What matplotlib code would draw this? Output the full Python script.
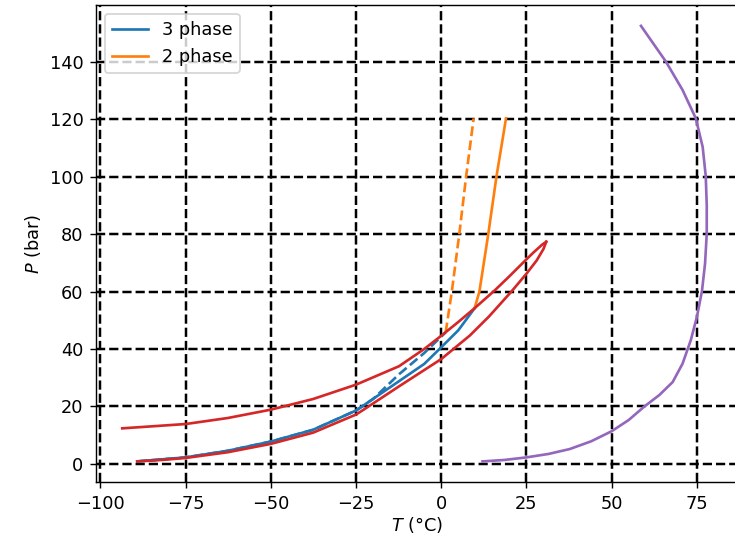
import numpy as np
import matplotlib.pyplot as plt

# phase envelope (red loop): lower and upper branch
env_lo_T = [-89.2, -82, -75, -62.6, -50, -37.6, -25, -21.6, -12.4, 0, 8.4, 14, 20.6, 25, 28, 30, 30.8]
env_lo_P = [0.9, 1.4, 2.1, 4.1, 7.0, 10.9, 17.2, 19.8, 27.0, 36.5, 44.7, 51.3, 60.0, 66.2, 70.8, 74.8, 77.3]
env_up_T = [30.8, 29.5, 27, 25, 20, 15.7, 9.8, 5, 0, -5, -12.4, -25, -37.6, -50, -62.6, -75, -93.6]
env_up_P = [77.3, 76.2, 73.5, 71.2, 65.3, 60.4, 54.2, 49.4, 44.6, 40.0, 34.0, 27.6, 22.6, 18.9, 16.0, 13.9, 12.4]

# three phase lines
tp_T = [-89.2, -75, -62.6, -50, -37.6, -25, -12.4, -5, 0, 5, 9.8]
tp_P = [0.9, 2.3, 4.6, 7.8, 11.9, 18.6, 28.8, 34.8, 40.6, 46.5, 54.2]
tp2_T = [-89.2, -75, -62.6, -50, -37.6, -25, -20, -12.4, -5, 1.3]
tp2_P = [0.9, 2.3, 4.6, 7.8, 11.9, 18.6, 22.6, 31.2, 38.6, 45.8]

# two phase lines
tw_T = [9.8, 11.2, 13.8, 16.2, 19.0]
tw_P = [54.2, 60.0, 80.0, 100.0, 120.2]
tw2_T = [1.3, 3.1, 5.3, 7.3, 9.5]
tw2_P = [45.8, 60.0, 80.0, 100.0, 120.2]

# purple curve
pc_T = [12.1, 18.5, 25, 31.5, 37.7, 44, 50, 55, 59.6, 64.0, 67.9, 70.8, 73.2, 75.0,
        76.5, 77.4, 77.9, 77.9, 77.6, 76.7, 74.7, 70.8, 65.9, 58.6]
pc_P = [0.9, 1.4, 2.3, 3.5, 5.2, 7.9, 11.4, 15.3, 20.0, 24.0, 28.5, 34.9, 43.0, 51.1,
        60.2, 69.7, 80.2, 90.0, 100.2, 110.3, 120.2, 130.1, 140.0, 152.4]

fig = plt.figure(figsize=(735 / 128, 538 / 128), dpi=128)
ax = fig.add_axes([0.1306, 0.1039, 0.8727, 0.887])

ax.plot(tp_T, tp_P, color='C0', label='3 phase')
ax.plot(tp2_T, tp2_P, color='C0', linestyle='--')
ax.plot(tw_T, tw_P, color='C1', label='2 phase')
ax.plot(tw2_T, tw2_P, color='C1', linestyle='--')
ax.plot(env_lo_T, env_lo_P, color='C3')
ax.plot(env_up_T, env_up_P, color='C3')
ax.plot(pc_T, pc_P, color='C4')

ax.set_xlim(-101.3, 86.9)
ax.set_ylim(-6.3, 159.7)
ax.set_xticks(np.arange(-100, 76, 25))
ax.set_yticks(np.arange(0, 141, 20))
ax.grid(color='k', linestyle='--', linewidth=1.4)
ax.set_xlabel('$T$ (°C)', labelpad=1.5)
ax.set_ylabel('$P$ (bar)')
ax.legend(loc='upper left')

fig.savefig('out.png', dpi=128)
